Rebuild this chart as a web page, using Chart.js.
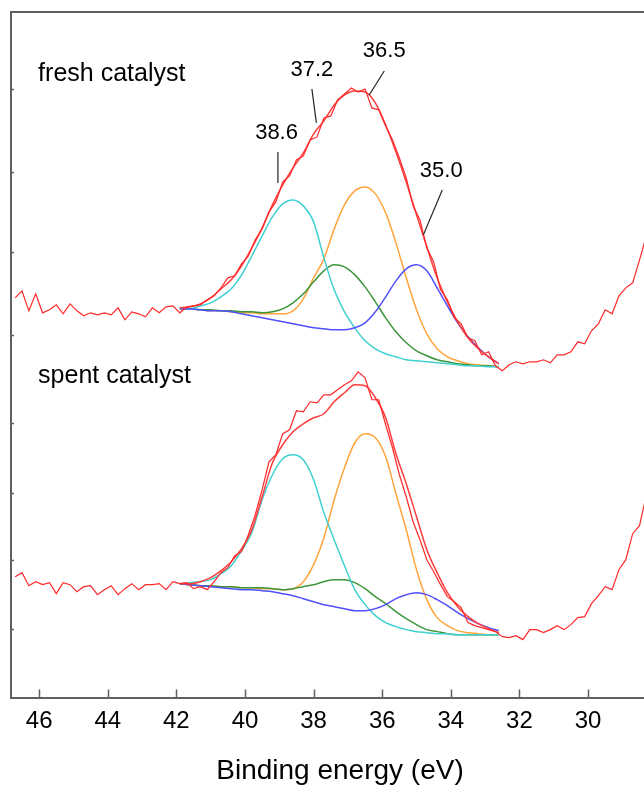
<!DOCTYPE html>
<html>
<head>
<meta charset="utf-8">
<title>XPS fresh vs spent catalyst</title>
<script src="https://cdn.jsdelivr.net/npm/chart.js@4.4.1/dist/chart.umd.min.js"></script>
<style>
  html, body { margin: 0; padding: 0; background: #fff; }
  #wrap { width: 644px; height: 791px; }
</style>
</head>
<body>
<div id="wrap"><canvas id="xpsChart" width="644" height="791"></canvas></div>
<script>
// Binding energy grid of the measured spectra (eV)
const rawEnergy = [
  46.7, 46.5, 46.3, 46.1, 45.9, 45.7, 45.5, 45.3, 45.1, 44.9, 44.7, 44.5, 44.3, 44.1, 43.9, 43.7,
  43.5, 43.3, 43.1, 42.9, 42.7, 42.5, 42.3, 42.1, 41.9, 41.7, 41.5, 41.3, 41.1, 40.9, 40.7, 40.5,
  40.3, 40.1, 39.9, 39.7, 39.5, 39.3, 39.1, 38.9, 38.7, 38.5, 38.3, 38.1, 37.9, 37.7, 37.5, 37.3,
  37.1, 36.9, 36.7, 36.5, 36.3, 36.1, 35.9, 35.7, 35.5, 35.3, 35.1, 34.9, 34.7, 34.5, 34.3, 34.1,
  33.9, 33.7, 33.5, 33.3, 33.1, 32.9, 32.7, 32.5, 32.3, 32.1, 31.9, 31.7, 31.5, 31.3, 31.1, 30.9,
  30.7, 30.5, 30.3, 30.1, 29.9, 29.7, 29.5, 29.3, 29.1, 28.9, 28.7, 28.5, 28.3
];

// Measured intensity (a.u.), fresh catalyst (top trace)
const freshRaw = [
  400, 407, 387, 404, 385, 388, 393, 384, 394, 387, 382, 385, 383, 385, 383, 390,
  378, 386, 384, 381, 390, 385, 391, 392, 385, 391, 392, 393, 398, 402, 410, 420,
  422, 434, 442, 458, 469, 486, 496, 516, 522, 538, 542, 558, 561, 580, 582, 598,
  604, 610, 606, 609, 590, 588, 572, 558, 540, 520, 492, 478, 450, 436, 408, 398,
  380, 374, 360, 357, 343, 346, 332, 327, 333, 336, 334, 336, 336, 338, 335, 343,
  343, 346, 356, 354, 367, 374, 388, 384, 402, 410, 415, 438, 462
];

// Measured intensity (a.u.), spent catalyst (bottom trace)
const spentRaw = [
  121, 125, 112, 116, 113, 115, 104, 115, 113, 106, 111, 112, 103, 108, 112, 103,
  109, 114, 108, 113, 113, 114, 108, 116, 114, 115, 109, 111, 108, 116, 125, 130,
  142, 146, 163, 183, 208, 236, 243, 264, 268, 287, 286, 296, 295, 303, 303, 308,
  313, 317, 326, 320, 298, 298, 273, 250, 223, 201, 176, 158, 138, 126, 113, 101,
  96, 90, 75, 72, 70, 68, 66, 61, 60, 62, 58, 68, 68, 65, 68, 72,
  68, 73, 80, 81, 94, 102, 111, 108, 128, 138, 164, 172, 203
];

// Binding energy grid of the fitted curves (eV)
const fitEnergy = [
  41.9, 41.6, 41.3, 41.0, 40.7, 40.4, 40.1, 39.8, 39.5, 39.2, 38.9, 38.6, 38.3, 38.0, 37.7, 37.4,
  37.1, 36.8, 36.5, 36.2, 35.9, 35.6, 35.3, 35.0, 34.7, 34.4, 34.1, 33.8, 33.5, 33.2, 32.9, 32.6
];

// Fresh catalyst: fit envelope and components (on background)
const freshEnvelope = [
  390, 391, 394, 400, 409, 418, 432, 450, 470, 493, 513, 530, 545, 564, 577, 593,
  603, 607, 606, 595, 573, 546, 516, 483, 451, 420, 396, 376, 360, 349, 341, 334
];
const freshPeak386 = [
  389, 389, 392, 395, 401, 409, 423, 442, 462, 481, 494, 498, 492, 476, 440, 408,
  386, 370, 357, 349, 344, 341, 338, 337, 336, 335, 334, 333, 332, 332, 331, 331
];
const freshPeak372 = [
  389, 389, 388, 388, 387, 387, 386, 386, 385, 386, 389, 395, 404, 416, 427, 433,
  431, 423, 411, 396, 380, 366, 355, 347, 342, 338, 336, 334, 333, 332, 332, 331
];
const freshPeak365 = [
  389, 389, 388, 387, 387, 386, 385, 385, 384, 384, 384, 387, 399, 420, 439, 469,
  493, 507, 511, 504, 485, 455, 420, 388, 364, 349, 341, 337, 334, 333, 332, 331
];
const freshPeak350 = [
  389, 389, 388, 387, 387, 386, 384, 382, 380, 378, 376, 374, 372, 370, 369, 368,
  368, 370, 375, 386, 401, 417, 429, 433, 427, 410, 392, 375, 361, 350, 341, 334
];

// Spent catalyst: fit envelope and components (on background)
const spentEnvelope = [
  114, 114, 116, 120, 127, 136, 149, 168, 201, 235, 253, 266, 274, 280, 284, 296,
  305, 313, 312, 300, 280, 244, 214, 181, 148, 125, 105, 91, 81, 74, 69, 65
];
const spentPeak386 = [
  114, 115, 116, 118, 124, 132, 147, 165, 198, 223, 239, 243, 238, 218, 185, 158,
  132, 108, 93, 82, 75, 71, 68, 66, 65, 64, 64, 63, 63, 63, 63, 63
];
const spentPeak372 = [
  114, 113, 112, 112, 111, 111, 110, 110, 110, 109, 108, 109, 111, 113, 116, 118,
  118, 115, 109, 101, 94, 86, 79, 73, 68, 66, 64, 63, 63, 63, 63, 63
];
const spentPeak365 = [
  114, 113, 112, 112, 111, 111, 110, 110, 109, 109, 108, 109, 116, 133, 160, 198,
  230, 255, 264, 260, 241, 204, 168, 128, 98, 80, 72, 67, 65, 64, 63, 63
];
const spentPeak350 = [
  114, 113, 112, 111, 110, 109, 108, 108, 107, 106, 104, 102, 99, 96, 93, 91,
  89, 87, 87, 89, 93, 99, 103, 105, 103, 98, 92, 85, 79, 74, 70, 67
];

// Axis ticks
const xTickValues = [46, 44, 42, 40, 38, 36, 34, 32, 30];
const yTickValues = [609, 526, 446, 363, 275, 205, 138, 69];

// Peak position labels with leader lines (data coordinates)
const peakLabels = ['38.6', '37.2', '36.5', '35.0'];
const labelAt = [[39.08, 565], [38.05, 628], [35.94, 647], [34.28, 527]];
const leaderFrom = [[39.04, 546], [38.05, 609], [35.94, 627], [34.25, 508]];
const leaderTo = [[39.04, 515], [37.92, 575], [36.38, 603], [34.80, 463]];

// Spectrum captions
const captions = ['fresh catalyst', 'spent catalyst'];
const captionAt = [[46.03, 617], [46.03, 315]];

const xTitle = 'Binding energy (eV)';

const FONT = "'Liberation Sans', Arial, sans-serif";
const COLORS = {
  raw: 'rgb(255, 40, 40)',
  envelope: 'rgb(255, 60, 60)',
  cyan: 'rgb(64, 208, 208)',
  green: 'rgb(60, 150, 60)',
  orange: 'rgb(255, 165, 60)',
  blue: 'rgb(80, 80, 255)'
};

function toPoints(xs, ys) {
  return xs.map((x, i) => ({ x: x, y: ys[i] }));
}

function line(label, xs, ys, color, order, smooth) {
  return {
    label: label,
    data: toPoints(xs, ys),
    borderColor: color,
    borderWidth: smooth ? 1.5 : 1.2,
    pointRadius: 0,
    fill: false,
    order: order,
    cubicInterpolationMode: smooth ? 'monotone' : 'default',
    tension: 0
  };
}

// Axis decorations: top border, inward ticks, axis title, captions, peak labels
const decorations = {
  id: 'decorations',
  afterDraw(chart) {
    const { ctx, chartArea, scales: { x, y } } = chart;
    ctx.save();
    ctx.strokeStyle = '#606060';
    ctx.lineWidth = 2;
    ctx.beginPath();
    ctx.moveTo(chartArea.left, chartArea.top);
    ctx.lineTo(chartArea.right, chartArea.top);
    ctx.stroke();

    ctx.lineWidth = 1.5;
    ctx.beginPath();
    x.ticks.forEach(t => {
      const px = Math.round(x.getPixelForValue(t.value)) + 0.5;
      ctx.moveTo(px, chartArea.bottom);
      ctx.lineTo(px, chartArea.bottom - 8);
    });
    y.ticks.forEach(t => {
      const py = Math.round(y.getPixelForValue(t.value)) + 0.5;
      ctx.moveTo(chartArea.left, py);
      ctx.lineTo(chartArea.left + 3, py);
    });
    ctx.stroke();

    ctx.fillStyle = '#000';
    // axis title, centred under the visible part of the axis
    ctx.font = '28px ' + FONT;
    ctx.textAlign = 'center';
    ctx.textBaseline = 'middle';
    ctx.fillText(xTitle, 340, chart.height - 20);

    ctx.textAlign = 'left';
    ctx.textBaseline = 'alphabetic';
    ctx.font = '25px ' + FONT;
    captions.forEach((text, i) => {
      ctx.fillText(text, x.getPixelForValue(captionAt[i][0]), y.getPixelForValue(captionAt[i][1]));
    });

    ctx.strokeStyle = '#222';
    ctx.lineWidth = 1.2;
    ctx.font = '22px ' + FONT;
    ctx.textAlign = 'center';
    ctx.textBaseline = 'middle';
    peakLabels.forEach((text, i) => {
      ctx.fillText(text, x.getPixelForValue(labelAt[i][0]), y.getPixelForValue(labelAt[i][1]));
      ctx.beginPath();
      ctx.moveTo(x.getPixelForValue(leaderFrom[i][0]), y.getPixelForValue(leaderFrom[i][1]));
      ctx.lineTo(x.getPixelForValue(leaderTo[i][0]), y.getPixelForValue(leaderTo[i][1]));
      ctx.stroke();
    });
    ctx.restore();
  }
};

new Chart(document.getElementById('xpsChart').getContext('2d'), {
  type: 'line',
  data: {
    datasets: [
      line('fresh measured', rawEnergy, freshRaw, COLORS.raw, 0, false),
      line('fresh envelope', fitEnergy, freshEnvelope, COLORS.envelope, 1, true),
      line('fresh 35.0', fitEnergy, freshPeak350, COLORS.blue, 2, true),
      line('fresh 38.6', fitEnergy, freshPeak386, COLORS.cyan, 3, true),
      line('fresh 37.2', fitEnergy, freshPeak372, COLORS.green, 4, true),
      line('fresh 36.5', fitEnergy, freshPeak365, COLORS.orange, 5, true),
      line('spent measured', rawEnergy, spentRaw, COLORS.raw, 0, false),
      line('spent envelope', fitEnergy, spentEnvelope, COLORS.envelope, 1, true),
      line('spent 35.0', fitEnergy, spentPeak350, COLORS.blue, 2, true),
      line('spent 38.6', fitEnergy, spentPeak386, COLORS.cyan, 3, true),
      line('spent 37.2', fitEnergy, spentPeak372, COLORS.green, 4, true),
      line('spent 36.5', fitEnergy, spentPeak365, COLORS.orange, 5, true)
    ]
  },
  options: {
    responsive: false,
    animation: false,
    devicePixelRatio: 1,
    // bottom padding keeps room for the axis title drawn by the plugin
    layout: { padding: { left: 3, top: 12, right: 0, bottom: 54.6 } },
    plugins: {
      legend: { display: false },
      tooltip: { enabled: false }
    },
    scales: {
      x: {
        type: 'linear',
        reverse: true,
        min: 28.37,
        max: 46.82,
        afterBuildTicks: scale => {
          scale.ticks = xTickValues.map(v => ({ value: v }));
        },
        grid: { display: false },
        border: { display: true, color: '#606060', width: 2 },
        ticks: {
          color: '#000',
          font: { family: FONT, size: 24 },
          padding: 1,
          maxRotation: 0,
          autoSkip: false
        },
        title: { display: false }
      },
      y: {
        type: 'linear',
        min: 0,
        max: 686,
        afterBuildTicks: scale => {
          scale.ticks = yTickValues.map(v => ({ value: v }));
        },
        grid: { display: false },
        ticks: { display: false },
        border: { display: true, color: '#606060', width: 2 }
      }
    }
  },
  plugins: [decorations]
});
</script>
</body>
</html>
